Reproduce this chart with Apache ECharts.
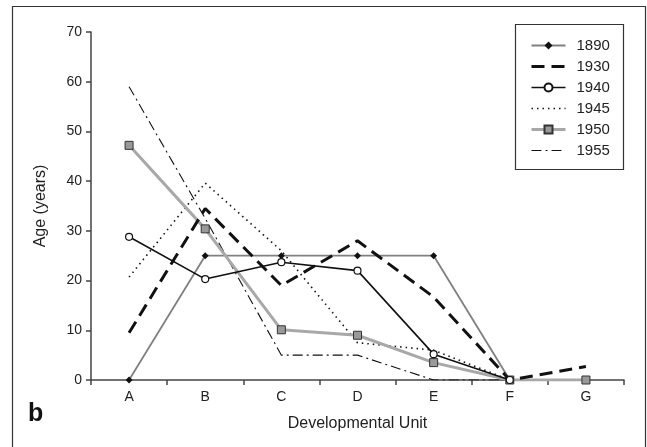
<!DOCTYPE html>
<html>
<head>
<meta charset="utf-8">
<script src="https://cdn.jsdelivr.net/npm/echarts@6/dist/echarts.min.js"></script>
<style>html,body{margin:0;padding:0;background:#fff}#c{width:647px;height:447px}</style>
</head>
<body>
<div id="c"></div>
<script>
var categories = ['A', 'B', 'C', 'D', 'E', 'F', 'G'];
var s1890 = [0, 25, 25, 25, 25, 0, null];
var s1930 = [9.5, 34.5, 19, 28, 16.7, 0, 2.7];
var s1940 = [28.8, 20.3, 23.7, 22, 5.2, 0, null];
var s1945 = [20.7, 39.6, 26, 7.5, 6, 0, null];
var s1950 = [47.2, 30.4, 10.1, 9, 3.5, 0, 0];
var s1955 = [59, 32.5, 5, 5, 0, 0, 0];
var yTicks = [0, 10, 20, 30, 40, 50, 60, 70];

var font = 'Liberation Sans, Arial, sans-serif';
var chart = echarts.init(document.getElementById('c'), null, {renderer: 'canvas'});
chart.setOption({
  animation: false,
  backgroundColor: '#fff',
  grid: {left: 91, right: 23, top: 32, bottom: 67},
  xAxis: {
    type: 'category', data: categories, boundaryGap: true,
    name: 'Developmental Unit', nameLocation: 'middle', nameGap: 36,
    nameTextStyle: {fontFamily: font, fontSize: 16, color: '#222'},
    axisLine: {lineStyle: {color: '#444', width: 1.5}},
    axisTick: {show: true, length: 5, lineStyle: {color: '#444', width: 1.5}},
    axisLabel: {fontFamily: font, fontSize: 14, color: '#222', margin: 10},
    splitLine: {show: false}
  },
  yAxis: {
    type: 'value', min: yTicks[0], max: yTicks[yTicks.length - 1], interval: 10,
    name: 'Age (years)', nameLocation: 'middle', nameGap: 42,
    nameTextStyle: {fontFamily: font, fontSize: 16, color: '#222'},
    axisLine: {show: true, lineStyle: {color: '#444', width: 1.5}},
    axisTick: {show: true, length: 5, lineStyle: {color: '#444', width: 1.5}},
    axisLabel: {fontFamily: font, fontSize: 14, color: '#222', margin: 9},
    splitLine: {show: false}
  },
  legend: {
    orient: 'vertical', left: 525, top: 33, itemGap: 6, itemWidth: 34, itemHeight: 10,
    textStyle: {fontFamily: font, fontSize: 15, color: '#222', padding: [0, 0, 0, 6]},
    data: [
      {name: '1890', lineStyle: {width: 1.8}},
      {name: '1930', itemStyle: {opacity: 0}, lineStyle: {width: 3}},
      {name: '1940', lineStyle: {width: 1.6}},
      {name: '1945', itemStyle: {opacity: 0}, lineStyle: {width: 1.6}},
      {name: '1950', lineStyle: {width: 3}},
      {name: '1955', itemStyle: {opacity: 0}, lineStyle: {width: 1.1}}
    ]
  },
  graphic: [
    {type: 'rect', shape: {x: 12.5, y: 6.5, width: 633, height: 450}, style: {fill: 'none', stroke: '#333', lineWidth: 1.2}, silent: true},
    {type: 'rect', shape: {x: 515.5, y: 24.5, width: 108, height: 145}, style: {fill: '#fff', stroke: '#333', lineWidth: 1.2}, z: -1, silent: true},
    {type: 'text', left: 28, top: 402, style: {text: 'b', font: 'bold 25px ' + font, fill: '#111'}}
  ],
  series: [
    {name: '1890', type: 'line', data: s1890, symbol: 'diamond', symbolSize: 7,
     itemStyle: {color: '#111'}, lineStyle: {color: '#808080', width: 1.8}, z: 3},
    {name: '1930', type: 'line', data: s1930, symbol: 'none',
     itemStyle: {color: '#111'}, lineStyle: {color: '#111', width: 3, type: [13, 7]}, z: 4},
    {name: '1940', type: 'line', data: s1940, symbol: 'circle', symbolSize: 7,
     itemStyle: {color: '#fff', borderColor: '#111', borderWidth: 1.2}, lineStyle: {color: '#111', width: 1.6}, z: 5},
    {name: '1945', type: 'line', data: s1945, symbol: 'none',
     itemStyle: {color: '#111'}, lineStyle: {color: '#111', width: 1.6, type: [1.5, 4]}, z: 2},
    {name: '1950', type: 'line', data: s1950, symbol: 'rect', symbolSize: 8,
     itemStyle: {color: '#999', borderColor: '#333', borderWidth: 1}, lineStyle: {color: '#a8a8a8', width: 3}, z: 3},
    {name: '1955', type: 'line', data: s1955, symbol: 'none',
     itemStyle: {color: '#111'}, lineStyle: {color: '#111', width: 1.1, type: [10, 4, 2, 4]}, z: 2}
  ]
});
</script>
</body>
</html>
